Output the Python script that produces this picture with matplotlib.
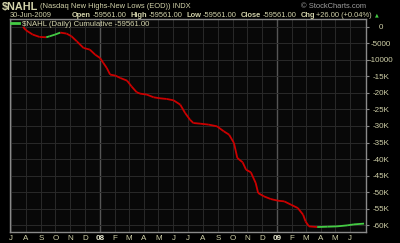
import matplotlib
matplotlib.use("Agg")
import matplotlib.pyplot as plt
import matplotlib.dates as mdates
from matplotlib.collections import LineCollection
import numpy as np
import pandas as pd

# ---- data ----
dates = ["2007-07-26", "2007-08-01", "2007-08-15", "2007-08-29", "2007-09-12", "2007-09-19",
         "2007-09-30", "2007-10-11", "2007-10-24", "2007-11-03", "2007-11-14", "2007-11-28",
         "2007-12-11", "2007-12-22", "2008-01-01", "2008-01-08", "2008-01-15", "2008-01-22",
         "2008-02-02", "2008-02-12", "2008-02-26", "2008-03-06", "2008-03-17", "2008-03-24",
         "2008-04-07", "2008-04-21", "2008-05-04", "2008-05-18", "2008-06-01", "2008-06-15",
         "2008-06-25", "2008-07-05", "2008-07-12", "2008-07-26", "2008-08-13", "2008-08-30",
         "2008-09-13", "2008-09-24", "2008-10-04", "2008-10-11", "2008-10-22", "2008-10-29",
         "2008-11-08", "2008-11-18", "2008-11-23", "2008-12-05", "2008-12-19", "2009-01-03",
         "2009-01-16", "2009-01-30", "2009-02-13", "2009-02-24", "2009-03-01", "2009-03-08",
         "2009-03-25", "2009-04-15", "2009-05-05", "2009-05-26", "2009-06-09", "2009-06-30"]
values = [0, -1010, -2323, -3030, -3131, -2828,
          -2323, -1717, -2020, -2828, -4343, -6363,
          -6868, -8383, -9393, -10908, -12423, -14443,
          -14746, -15453, -16261, -17978, -19796, -20200,
          -20503, -21311, -21614, -21816, -22220, -23533,
          -26058, -28078, -29088, -29290, -29593, -30098,
          -31613, -32623, -35148, -39693, -41006, -43228,
          -44036, -47268, -50298, -51308, -52116, -52621,
          -52823, -53833, -54843, -56863, -58883, -60398,
          -60600, -60499, -60398, -60095, -59792, -59561]
y_ticks = [0, -5000, -10000, -15000, -20000, -25000, -30000, -35000, -40000,
           -45000, -50000, -55000, -60000]
y_tick_labels = ["0", "-5000", "-10000", "-15K", "-20K", "-25K", "-30K", "-35K",
                 "-40K", "-45K", "-50K", "-55K", "-60K"]
month_letters = ["J", "A", "S", "O", "N", "D", "08", "F", "M", "A", "M", "J",
                 "J", "A", "S", "O", "N", "D", "09", "F", "M", "A", "M", "J"]

TAN = "#d2d2aa"
RED = "#cc0000"
GREEN = "#44cc44"
FONT = "Liberation Sans"

x = mdates.date2num(pd.to_datetime(dates))
v = np.array(values, dtype=float)

fig = plt.figure(figsize=(4.0, 2.43), dpi=100, facecolor="black")
ax = fig.add_axes([10 / 400, 1 - 232 / 243, 356 / 400, 213 / 243], facecolor="#080808")

pts = np.column_stack([x, v]).reshape(-1, 1, 2)
segs = np.concatenate([pts[:-1], pts[1:]], axis=1)
cols = [GREEN if b > a else RED for a, b in zip(v[:-1], v[1:])]
ax.add_collection(LineCollection(segs, colors=cols, linewidths=1.3, zorder=3))

month_starts = pd.date_range("2007-07-01", "2009-06-01", freq="MS")
mx = mdates.date2num(month_starts)
ax.set_xlim(mdates.date2num(pd.Timestamp("2007-06-29")), mdates.date2num(pd.Timestamp("2009-07-04")))
ax.set_ylim(-62100, 2400)

for xi, ms in zip(mx, month_starts):
    ax.axvline(xi, color="#555555" if ms.month == 1 else "#2a2a2a",
               lw=1.0 if ms.month == 1 else 0.7, zorder=1)
for yt in y_ticks:
    ax.axhline(yt, color="#2a2a2a", lw=0.7, zorder=1)

ax.set_xticks(mx)
ax.set_xticklabels(month_letters, family=FONT, fontsize=5.8, color=TAN)
for lbl, m in zip(ax.get_xticklabels(), month_letters):
    if m.isdigit():
        lbl.set_fontweight("bold")
        lbl.set_color("#e8e8d0")
ax.tick_params(axis="x", length=0, pad=2)

ax.yaxis.tick_right()
ax.set_yticks(y_ticks)
ax.set_yticklabels(y_tick_labels, family=FONT, fontsize=5.8, color=TAN, ha="center")
ax.tick_params(axis="y", length=2, color="#888888", pad=8.5)

for s in ax.spines.values():
    s.set_color("#8a8a8a")
    s.set_linewidth(1.0)

# header texts
fig.text(2 / 400, 1 - 7 / 243, "$NAHL", family=FONT, fontsize=7.8, fontweight="bold",
         color=TAN, va="center", ha="left")
fig.text(40 / 400, 1 - 6.5 / 243, "(Nasdaq New Highs-New Lows (EOD)) INDX", family=FONT,
         fontsize=5.4, color=TAN, va="center", ha="left")
fig.text(366 / 400, 1 - 6.5 / 243, "\u00a9 StockCharts.com", family=FONT, fontsize=5.4,
         color="#a0a0a0", va="center", ha="right")
fig.text(10 / 400, 1 - 15.5 / 243, "30-Jun-2009", family=FONT, fontsize=5.4, color=TAN,
         va="center", ha="left")

parts = [("Open", True, 1.5), ("-59561.00", False, 4), ("High", True, 1.5), ("-59561.00", False, 4),
         ("Low", True, 1.5), ("-59561.00", False, 4), ("Close", True, 1.5), ("-59561.00", False, 4),
         ("Chg", True, 1.5), ("+26.00 (+0.04%)", False, 3)]
renderer = fig.canvas.get_renderer()
xpix = 72.0
for txt, bold, gap in parts:
    t = fig.text(xpix / 400, 1 - 15.5 / 243, txt, family=FONT, fontsize=5.4, color=TAN,
                 fontweight="bold" if bold else "normal", va="center", ha="left")
    bb = t.get_window_extent(renderer=renderer)
    xpix = bb.x1 + gap
fig.text(xpix / 400, 1 - 15 / 243, "\u25b2", family="DejaVu Sans", fontsize=3.5,
         color=GREEN, va="center", ha="left")

# legend
ax.plot([], [], color=GREEN, lw=2, label="$NAHL (Daily) Cumulative -59561.00")
leg = ax.legend(loc="upper left", frameon=False, prop={"family": FONT, "size": 5.6},
                handlelength=1.0, handletextpad=0.4, borderaxespad=0.0,
                borderpad=0.0, bbox_to_anchor=(0.004, 0.995))
for t in leg.get_texts():
    t.set_color(TAN)

fig.savefig("out.png", dpi=100, facecolor="black")
